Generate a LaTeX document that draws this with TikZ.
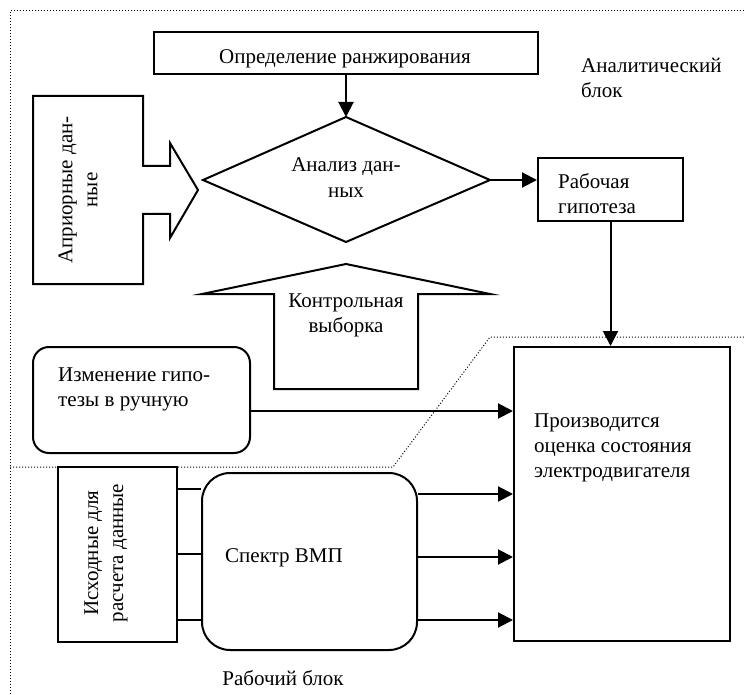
\documentclass[tikz,border=0pt]{standalone}
\usepackage{fontspec}
\setmainfont{Liberation Serif}
\usetikzlibrary{arrows.meta}
\begin{document}
\begin{tikzpicture}[x=1pt,y=-1pt,
  box/.style={draw, line width=2pt, inner sep=0pt},
  shp/.style={draw, line width=2pt, line join=miter},
  arr/.style={-{Triangle[length=15pt,width=15pt]}, line width=2pt},
  conn/.style={line width=2pt},
  frame/.style={line width=1pt, dash pattern=on 1pt off 2pt},
  txt/.style={font=\fontsize{21}{25}\selectfont, inner sep=0pt}]
\useasboundingbox (0,0) rectangle (744,695);

% dotted frame and divider
\draw[frame] (744,11) -- (10,11) -- (10,695);
\draw[frame] (10,467) -- (393,467) -- (490,337) -- (744,337);

% top box
\node[box, minimum width=384pt, minimum height=42pt] (rank) at (346,53) {};
\node[txt, anchor=base] (rankt) at (345,64) {Определение ранжирования};

% diamond
\coordinate (dT) at (346,117);
\coordinate (dR) at (490,180);
\coordinate (dB) at (346,242);
\coordinate (dL) at (203,180);
\draw[shp] (dT) -- (dR) -- (dB) -- (dL) -- cycle;
\node[txt, anchor=base, align=center] (analt) at (346,197) {Анализ дан-\\ных};

% working hypothesis
\node[box, minimum width=145pt, minimum height=63pt] (hyp) at (610.5,189.5) {};
\begin{scope}
\clip (540,160) rectangle (681,214);
\node[txt, anchor=base west, align=left] (hypt) at (558,214) {Рабочая\\гипотеза};
\end{scope}

% analytic block label
\node[txt, anchor=base west, align=left] (analyt) at (581,98) {Аналитический\\блок};

% a priori data block arrow
\draw[shp] (33,96) -- (143,96) -- (143,166) -- (170,166) -- (170,143) -- (198,190)
  -- (170,238) -- (170,214) -- (143,214) -- (143,284) -- (33,284) -- cycle;
\node[txt, rotate=90, align=center] (aprt) at (78,190) {Априорные дан-\\ные};

% control sample block arrow
\draw[shp] (274,389) -- (274,294) -- (202,294) -- (346,264) -- (490,294) -- (418,294)
  -- (418,389) -- cycle;
\node[txt, anchor=base, align=center] (ctrlt) at (346,332) {Контрольная\\выборка};

% manual change
\node[box, rounded corners=16pt, minimum width=217pt, minimum height=106pt] (chg) at (141.5,400) {};
\node[txt, anchor=base west, align=left] (chgt) at (58,406) {Изменение гипо-\\тезы в ручную};

% evaluation box
\node[box, minimum width=216pt, minimum height=294pt] (eval) at (622,494) {};
\node[txt, anchor=base west, align=left] (evalt) at (534,477) {Производится\\оценка состояния\\электродвигателя};

% source data
\node[box, minimum width=119pt, minimum height=175pt] (src) at (117.5,554.5) {};
\node[txt, rotate=90, align=center] (srct) at (106,553) {Исходные для\\расчета данные};

% spectrum
\node[box, rounded corners=28pt, minimum width=215pt, minimum height=177pt] (spec) at (309.5,561.5) {};
\node[txt, anchor=base] (spect) at (284,562) {Спектр ВМП};

\node[txt, anchor=base] (workt) at (283,685) {Рабочий блок};

% connectors
\draw[arr] (rank.south) -- (dT);
\draw[arr] (dR) -- (dR -| hyp.west);
\draw[arr] (hyp.south) -- (hyp.south |- eval.north);
\coordinate (c1) at (250,411);
\draw[arr] (c1) -- (c1 -| eval.west);

\draw[conn] (src.east |- 0,489) -- (spec.west |- 0,489);
\draw[conn] (src.east |- 0,554) -- (spec.west |- 0,554);
\draw[conn] (src.east |- 0,620) -- (spec.west |- 0,620);

\draw[arr] (spec.east |- 0,494) -- (eval.west |- 0,494);
\draw[arr] (spec.east |- 0,557) -- (eval.west |- 0,557);
\draw[arr] (spec.east |- 0,620) -- (eval.west |- 0,620);
\end{tikzpicture}
\end{document}
